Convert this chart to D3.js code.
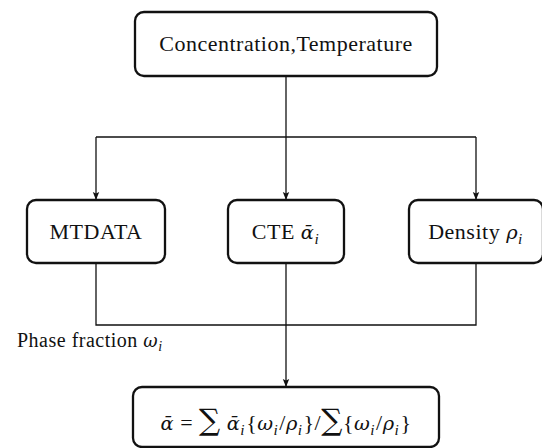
<!DOCTYPE html>
<html>
<head>
<meta charset="utf-8">
<script src="https://cdn.jsdelivr.net/npm/d3@7"></script>
<style>
  body { margin: 0; background: #fff; }
  svg { display: block; }
  text { font-family: "Liberation Serif", "DejaVu Serif", serif; fill: #111; }
</style>
</head>
<body>
<svg></svg>
<script>
// node labels, as text segments: n = upright, it = italic maths, sub = subscript, op = big operator
let topLabel = [["Concentration,Temperature", "n"]];
let columns = ["mtdata", "cte", "density"];
let columnLabels = [
  [["MTDATA", "n"]],
  [["CTE ", "n"], ["α\u0304", "it"], ["i", "sub"]],
  [["Density ", "n"], ["ρ", "it"], ["i", "sub"]]
];
let edgeLabel = [["Phase fraction ", "n"], ["ω", "it"], ["i", "sub"]];
let resultLabel = [
  ["α\u0304", "it"], [" = ", "n"], ["∑", "op"], [" ", "n"], ["α\u0304", "it"], ["i", "sub"],
  ["{", "n"], ["ω", "it"], ["i", "sub"], ["/", "n"], ["ρ", "it"], ["i", "sub"],
  ["}/", "n"], ["∑", "op"], ["{", "n"], ["ω", "it"], ["i", "sub"], ["/", "n"], ["ρ", "it"], ["i", "sub"], ["}", "n"]
];

let width = 542, height = 448;
let ink = "#111";

let svg = d3.select("svg")
  .attr("width", width)
  .attr("height", height);

svg.append("defs").append("marker")
  .attr("id", "arrow")
  .attr("markerUnits", "userSpaceOnUse")
  .attr("viewBox", "0 -4 8 8")
  .attr("refX", 8)
  .attr("refY", 0)
  .attr("markerWidth", 8)
  .attr("markerHeight", 8)
  .attr("orient", "auto")
  .append("path")
  .attr("d", "M0,-3.2L8,0L0,3.2L1.6,0Z")
  .attr("fill", ink);

// column centres
let xScale = d3.scalePoint()
  .domain(columns)
  .range([96, 476]);
let boxWidths = { mtdata: 138, cte: 116, density: 134 };
let cx = xScale("cte");

let topBox = { x0: 135, x1: 437, y0: 12, y1: 76 };
let midY0 = 200, midY1 = 263;
let splitY = 137, joinY = 325;
let resBox = { x0: 133, x1: 439, y0: 387, y1: 447 };

let writeLabel = (g, segs, x, y, size, anchor) => {
  let t = g.append("text")
    .attr("x", x)
    .attr("y", y)
    .attr("text-anchor", anchor || "middle")
    .style("white-space", "pre")
    .style("font-size", size + "px")
    .style("letter-spacing", "0.5px");
  let shifted = false;
  segs.forEach(([s, kind]) => {
    let sp = t.append("tspan").text(s);
    if (kind === "sub") {
      sp.attr("dy", size * 0.22)
        .style("font-size", (size * 0.7) + "px")
        .style("font-style", "italic")
        .style("letter-spacing", "1.5px");
      shifted = true;
      return;
    }
    if (shifted) { sp.attr("dy", -size * 0.22); shifted = false; }
    if (kind === "it") {
      sp.style("font-family", "'DejaVu Serif', serif")
        .style("font-style", "italic")
        .style("font-size", (size * 0.88) + "px")
        .style("letter-spacing", "0.5px");
    } else if (kind === "op") {
      sp.style("font-family", "'DejaVu Serif', serif")
        .style("font-size", (size * 1.35) + "px");
    }
  });
  return t;
};

let drawBox = (x0, x1, y0, y1) => {
  svg.append("rect")
    .attr("x", x0)
    .attr("y", y0)
    .attr("width", x1 - x0)
    .attr("height", y1 - y0)
    .attr("rx", 9)
    .attr("fill", "#fff")
    .attr("stroke", ink)
    .attr("stroke-width", 2.3);
};

let line = d3.line();
let drawPath = (pts, arrow) => {
  let p = svg.append("path")
    .attr("d", line(pts))
    .attr("fill", "none")
    .attr("stroke", ink)
    .attr("stroke-width", 1.3);
  if (arrow) p.attr("marker-end", "url(#arrow)");
};

// connectors
drawPath([[cx, topBox.y1], [cx, midY0]], true);
drawPath([[xScale("mtdata"), splitY], [xScale("density"), splitY]]);
drawPath([[xScale("mtdata"), splitY], [xScale("mtdata"), midY0]], true);
drawPath([[xScale("density"), splitY], [xScale("density"), midY0]], true);
drawPath([[xScale("mtdata"), midY1], [xScale("mtdata"), joinY], [xScale("density"), joinY], [xScale("density"), midY1]]);
drawPath([[cx, midY1], [cx, resBox.y0]], true);

// boxes
drawBox(topBox.x0, topBox.x1, topBox.y0, topBox.y1);
writeLabel(svg, topLabel, cx, 51, 22);

columns.forEach((c, i) => {
  let w = boxWidths[c];
  drawBox(xScale(c) - w / 2, xScale(c) + w / 2, midY0, midY1);
  writeLabel(svg, columnLabels[i], xScale(c), 239, 22);
});

writeLabel(svg, edgeLabel, 17, 347, 20, "start");

drawBox(resBox.x0, resBox.x1, resBox.y0, resBox.y1);
writeLabel(svg, resultLabel, cx, 430, 22);
</script>
</body>
</html>
